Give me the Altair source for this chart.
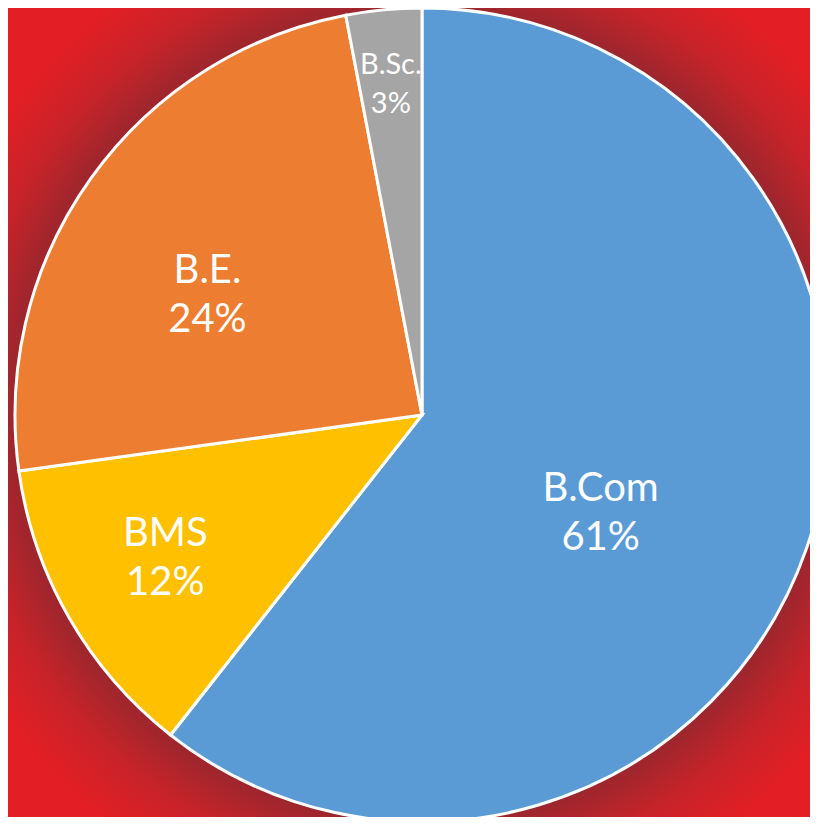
import altair as alt
import pandas as pd

# ---- data ----
categories = ["B.Com", "BMS", "B.E.", "B.Sc."]
values = [60.6, 12.2, 24.2, 3.0]
pct_labels = ["61%", "12%", "24%", "3%"]
colors = ["#5B9BD5", "#FFC000", "#ED7D31", "#A5A5A5"]

# ---- layout / style ----
W, H = 802, 809
CX, CY = 414, 407
R = 407
label_style = {
    "B.Com": dict(r=189, dy=12, size=40, lh=49),
    "BMS": dict(r=296, dy=-28, size=40, lh=49),
    "B.E.": dict(r=264, dy=10, size=40, lh=49),
    "B.Sc.": dict(r=331, dy=-20, size=29, lh=39),
}

df = pd.DataFrame({
    "cat": categories,
    "val": values,
    "order": list(range(len(categories))),
    "label": [f"{c}\n{p}" for c, p in zip(categories, pct_labels)],
})

bg = alt.Chart(pd.DataFrame({"a": [0]})).mark_rect(
    color=alt.Gradient(
        gradient="radial",
        stops=[
            alt.GradientStop(offset=0, color="#9F262D"),
            alt.GradientStop(offset=0.45, color="#C8232A"),
            alt.GradientStop(offset=1, color="#E31E24"),
        ],
        x1=CX / W, y1=CY / H, r1=R / W,
        x2=CX / W, y2=CY / H, r2=(R + 105) / W,
    )
).encode(x=alt.value(0), x2=alt.value(W), y=alt.value(0), y2=alt.value(H))

base = alt.Chart(df).encode(
    theta=alt.Theta("val:Q", stack=True),
    order=alt.Order("order:Q"),
)

pie = base.mark_arc(radius=R, stroke="white", strokeWidth=3).encode(
    x=alt.value(CX),
    y=alt.value(CY),
    color=alt.Color("cat:N", scale=alt.Scale(domain=categories, range=colors), legend=None),
)

layers = [bg, pie]
for c in categories:
    s = label_style[c]
    t = base.mark_text(
        radius=s["r"], dy=s["dy"], fontSize=s["size"], lineHeight=s["lh"],
        lineBreak="\n", color="white", font="Lato", align="center", baseline="middle",
    ).encode(
        x=alt.value(CX),
        y=alt.value(CY),
        text="label:N",
        opacity=alt.condition(alt.datum.cat == c, alt.value(1), alt.value(0)),
    )
    layers.append(t)

chart = alt.layer(*layers).properties(
    width=W, height=H, padding=0, autosize="none", background="#E31E24",
).configure_view(stroke=None)

chart.save("out.html", embed_options={"renderer": "svg", "actions": False})
